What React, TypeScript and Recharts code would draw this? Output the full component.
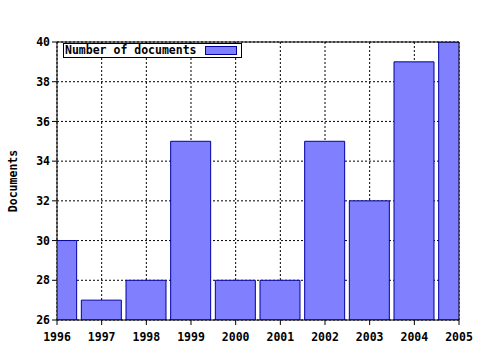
import React from "react";
import {
  Bar,
  BarChart,
  CartesianGrid,
  XAxis,
  YAxis,
} from "recharts";

const years = [1996, 1997, 1998, 1999, 2000, 2001, 2002, 2003, 2004, 2005];
const documents = [30, 27, 28, 35, 28, 28, 35, 32, 39, 40];
const yTicks = [26, 28, 30, 32, 34, 36, 38, 40];

const data = years.map((year, i) => ({ year, documents: documents[i] }));

const FONT = "'DejaVu Sans Mono', monospace";
const tickStyle = { fontFamily: FONT, fontSize: 11.5, fontWeight: "bold", fill: "#000" };

const LegendBox = () => (
  <div
    style={{
      position: "absolute",
      left: 63,
      top: 43,
      border: "1px solid #000",
      background: "#fff",
      width: 177,
      height: 13,
      display: "flex",
      alignItems: "center",
      fontFamily: FONT,
      fontSize: 11.5,
      fontWeight: "bold",
      lineHeight: "13px",
    }}
  >
    <span style={{ marginLeft: 1 }}>Number of documents</span>
    <span
      style={{
        display: "inline-block",
        width: 30,
        height: 7,
        marginLeft: 8,
        background: "#8080ff",
        border: "1px solid #0000a0",
      }}
    />
  </div>
);

export default function App() {
  return (
    <div style={{ position: "absolute", left: 0, top: 0, width: 480, height: 350, background: "#fff" }}>
      <BarChart
        width={480}
        height={350}
        data={data}
        margin={{ top: 37, right: 20, bottom: 0, left: 0 }}
      >
        <CartesianGrid
          stroke="#000"
          strokeDasharray="2 2"
          verticalValues={years}
          horizontalValues={yTicks}
        />
        <XAxis
          dataKey="year"
          type="number"
          domain={[1996, 2005]}
          ticks={years}
          allowDataOverflow
          interval={0}
          height={30}
          tick={{ ...tickStyle, dy: 6 }}
          tickSize={5}
          stroke="#000"
        />
        <XAxis
          xAxisId="top"
          orientation="top"
          dataKey="year"
          type="number"
          domain={[1996, 2005]}
          ticks={years}
          height={5}
          tick={false}
          tickSize={4}
          stroke="#000"
        />
        <YAxis
          type="number"
          domain={[26, 40]}
          ticks={yTicks}
          allowDataOverflow
          interval={0}
          width={57}
          tick={tickStyle}
          tickSize={5}
          stroke="#000"
          label={{
            value: "Documents",
            angle: -90,
            position: "insideLeft",
            offset: 13,
            style: { ...tickStyle, textAnchor: "middle" },
          }}
        />
        <YAxis
          yAxisId="right"
          orientation="right"
          type="number"
          domain={[26, 40]}
          ticks={yTicks}
          width={1}
          tick={false}
          tickLine={false}
          stroke="#000"
        />
        <Bar
          dataKey="documents"
          barSize={40}
          fill="#8080ff"
          stroke="#0000a0"
          strokeWidth={1}
          isAnimationActive={false}
        />
      </BarChart>
      <LegendBox />
    </div>
  );
}
